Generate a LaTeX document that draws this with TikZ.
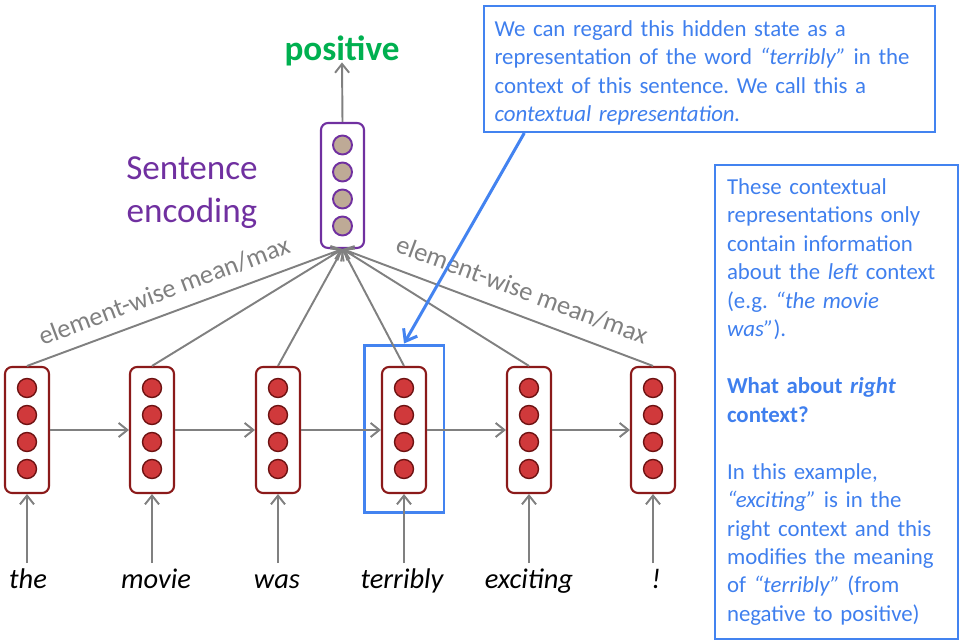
\documentclass[tikz,border=0pt]{standalone}
\usepackage{fontspec}
\setmainfont{Carlito}
\usetikzlibrary{arrows.meta,calc}
\definecolor{cellred}{HTML}{D0393B}
\definecolor{celledge}{HTML}{8B1A1A}
\definecolor{balledge}{HTML}{6E1212}
\definecolor{purp}{HTML}{7030A0}
\definecolor{tan}{HTML}{BEAA96}
\definecolor{arrowgrey}{HTML}{808080}
\definecolor{hlblue}{HTML}{4383F0}
\definecolor{txtblue}{HTML}{3F7FEE}
\definecolor{posgreen}{HTML}{00B050}
\tikzset{
  redcell/.style={draw=celledge, line width=1.2pt, rounded corners=4pt, fill=white, minimum width=0.88cm, minimum height=2.52cm, inner sep=0pt},
  redball/.style={circle, draw=balledge, line width=0.8pt, fill=cellred, minimum size=0.38cm, inner sep=0pt},
  purpcell/.style={draw=purp, line width=1.2pt, rounded corners=4pt, fill=white, minimum width=0.86cm, minimum height=2.5cm, inner sep=0pt},
  purpball/.style={circle, draw=purp, line width=1.1pt, fill=tan, minimum size=0.38cm, inner sep=0pt},
  garr/.style={draw=arrowgrey, line width=1.1pt, -{Straight Barb[length=5pt,width=8pt]}},
  barr/.style={draw=hlblue, line width=1.7pt, -{Straight Barb[length=6pt,width=9pt]}},
  word/.style={font=\fontsize{16.2}{19}\selectfont\itshape, anchor=base, text height=0.7em, text depth=0.25em, inner xsep=0pt, inner ysep=7pt},
  lbl/.style={font=\fontsize{15}{18}\selectfont, text=arrowgrey, inner sep=0pt},
  infobox/.style={draw=hlblue, line width=1.2pt, text=txtblue, align=left, font=\fontsize{13}{16.2}\selectfont, inner ysep=0pt},
}
\begin{document}
\frenchspacing
\begin{tikzpicture}[x=0.02cm,y=-0.02cm]
\useasboundingbox (0,0) rectangle (963,644);

% highlight box behind the "terribly" cell
\node[draw=hlblue, line width=1.7pt, minimum width=1.6cm, minimum height=3.36cm, inner sep=0pt] (hl) at (404,429) {};

% recurrent cells
\foreach \n/\x in {1/27,2/152,3/278,4/404,5/529,6/653} {
  \node[redcell] (c\n) at (\x,430) {};
  \foreach \k/\yy in {a/388,b/415,c/442,d/469}
    \node[redball] (c\n\k) at (\x,\yy) {};
}

% sentence encoding cell
\node[purpcell] (p) at (342.5,185.5) {};
\foreach \k/\yy in {a/145,b/172,c/199,d/226}
  \node[purpball] (p\k) at (342.5,\yy) {};

% output
\node[font=\fontsize{20}{24}\selectfont\bfseries, text=posgreen, anchor=base, inner xsep=0pt, inner ysep=0.6pt, text depth=0pt] (pos) at (342,61) {positive};
\draw[garr] (p.north) -- (pos.south);

\node[font=\fontsize{20}{24.5}\selectfont, text=purp, align=center] (se) at (192,193) {Sentence\\encoding};

% words
\node[word] (w1) at (28,588) {the};
\node[word] (w2) at (156,588) {movie};
\node[word] (w3) at (277,588) {was};
\node[word] (w4) at (402,588) {terribly};
\node[word] (w5) at (529,588) {exciting};
\node[word] (w6) at (656,588) {!};

\foreach \n in {1,...,6} {
  \draw[garr] (c\n.south |- w\n.north) -- (c\n.south);
  \draw[garr] (c\n.north) -- (p.south);
}
\foreach \a/\b in {1/2,2/3,3/4,4/5,5/6}
  \draw[garr] (c\a.east) -- (c\b.west);

% mean/max labels
\node[lbl, rotate=20.6] (l1) at (164,291) {element-wise mean/max};
\node[lbl, rotate=-20.4] (l2) at (522,290) {element-wise mean/max};

% callout
\node[infobox, fill=white, inner xsep=5.8pt, minimum height=2.52cm, text width=8.6cm] (callout) at (709.5,69) {We can regard this hidden state as a\\representation of the word \textit{“terribly”} in the\\context of this sentence. We call this a\\\textit{contextual representation.}\par\vspace{-4.5pt}};
\coordinate (cs) at ($(callout.south west)+(41,0)$);
\draw[barr] (cs) -- (hl.north);

% right info box
\node[infobox, inner xsep=6.8pt, minimum height=9.48cm, text width=4.38cm] (rbox) at (836.5,402) {These contextual\\representations only\\contain information\\about the \textit{left} context\\(e.g. \textit{“the movie}\\\textit{was”}).\\[16.2pt]\textbf{What about \textit{right}}\\\textbf{context?}\\[16.2pt]In this example,\\\textit{“exciting”} is in the\\right context and this\\modifies the meaning\\of \textit{“terribly”} (from\\negative to positive)};
\end{tikzpicture}
\end{document}
